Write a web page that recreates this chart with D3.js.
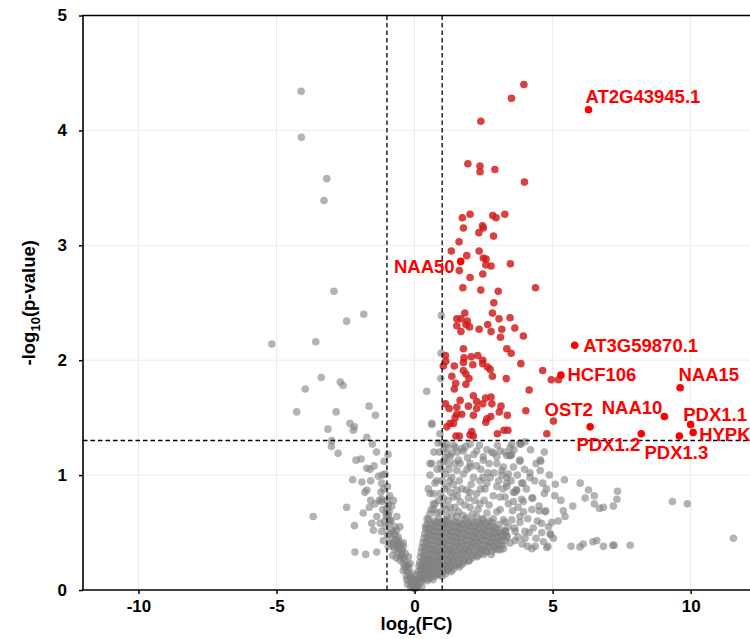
<!DOCTYPE html>
<html>
<head>
<meta charset="utf-8">
<script src="https://cdn.jsdelivr.net/npm/d3@7/dist/d3.min.js"></script>
<style>
  html, body { margin: 0; padding: 0; background: #ffffff; }
  svg { display: block; }
  text { font-family: "Liberation Sans", Arial, Helvetica, sans-serif; font-weight: bold; }
</style>
</head>
<body>
<div id="chart"></div>
<script>
// Axis ticks
const xTicks = [-10, -5, 0, 5, 10];
const yTicks = [0, 1, 2, 3, 4, 5];

// Significance thresholds: |log2FC| > 1 and p < 0.05
const fcCut = 1;
const pCut = -Math.log10(0.05);

// Genes not passing the thresholds: [log2FC, -log10 p]
const grayPoints = [
  // far left
  [-4.11,4.34],[-4.10,3.94],[-3.18,3.58],[-3.28,3.39],[-2.92,2.60],[-1.84,2.40],[-2.46,2.34],
  [-5.17,2.14],[-3.58,2.16],[-3.38,1.85],[-3.96,1.75],[-2.69,1.81],[-2.59,1.78],
  [-4.27,1.55],[-2.84,1.55],[-1.65,1.60],[-1.42,1.52],[-3.14,1.40],[-3.00,1.30],[-3.01,1.25],
  [-2.77,1.19],[-2.34,1.45],[-2.18,1.42],[-2.22,1.39],[-1.73,1.33],[-1.53,1.27],[-1.38,1.20],
  [-2.12,1.13],[-1.94,1.14],[-1.73,1.06],[-1.61,1.05],[-1.47,1.08],[-1.31,0.99],[-1.17,1.00],
  [-2.24,0.96],[-1.91,0.94],[-1.59,0.95],[-1.19,0.93],[-1.80,0.85],[-1.73,0.87],[-2.46,0.72],
  [-3.67,0.64],[-2.18,0.56],[-1.86,0.67],[-2.16,0.33],[-1.77,0.31],[-1.37,0.33],
  // left arm
  [-1.59,0.78],[-1.43,0.75],[-1.64,0.72],[-1.19,0.77],[-1.01,0.78],[-0.83,0.73],[-1.04,0.67],
  [-1.37,0.64],[-1.55,0.58],[-1.49,0.52],[-1.25,0.58],[-1.19,0.51],[-1.13,0.43],[-0.89,0.49],
  [-0.77,0.41],[-0.64,0.38],[-0.95,0.38],[-0.53,0.29],[-0.41,0.23],[-0.28,0.17],[-0.16,0.12],
  [-0.04,0.09],[0.08,0.06],[-0.89,0.61],[-0.71,0.55],[-0.59,0.46],[-0.41,0.38],[-0.22,0.29],
  [-0.46,0.32],[-1.07,1.01],[-1.19,0.79],[-0.95,0.74],[-0.77,0.78],[-1.01,0.64],[-0.64,0.64],
  [-0.83,0.52],[-0.53,0.55],[-0.59,0.43],[-0.41,0.41],[-0.77,0.38],[-0.34,0.32],[-0.53,0.26],
  [-0.16,0.23],[-0.41,0.17],[-0.10,0.14],[-0.28,0.09],[-0.04,0.06],[0.08,0.03],
  [-1.12,0.88],[-0.98,0.90],[-0.90,0.82],[-1.05,0.55],[-0.92,0.58],[-0.70,0.48],[-0.65,0.52],
  [-0.50,0.40],[-0.45,0.35],[-0.35,0.26],[-0.30,0.21],[-0.22,0.15],[-0.18,0.08],[-0.10,0.05],
  [-0.05,0.02],[0.00,0.01],[-0.60,0.33],[-0.72,0.35],[-0.85,0.44],[-0.30,0.12],[-0.15,0.03],
  [-0.25,0.05],[-1.10,1.12],[-0.96,1.18],
  [-0.95,0.65],[-0.85,0.60],[-0.78,0.50],[-0.68,0.44],[-0.62,0.40],[-0.55,0.36],[-0.48,0.30],
  [-0.40,0.28],[-0.36,0.20],[-0.24,0.22],[-0.20,0.19],[-0.12,0.10],[-0.08,0.07],[-1.00,0.71],
  [-0.92,0.68],[-1.15,0.70],[-1.08,0.60],[-0.98,0.48],[-0.88,0.40],[-0.80,0.30],[-0.66,0.28],
  [-1.22,0.85],[-1.28,0.78],
  // near the fold-change cut, above and below the p cut
  [0.97,2.39],[0.96,2.06],[0.95,1.84],[0.44,1.73],[0.63,1.44],[0.62,1.45],[0.92,1.36],
  [0.62,1.10],[0.80,0.95],[0.56,0.84],[0.74,0.75],[0.56,1.00],[0.50,0.88],[0.60,0.70],
  [0.45,0.62],[0.40,0.55],[0.56,1.10],[0.74,0.93],[0.92,0.84],[0.68,0.75],[0.70,1.20],
  [0.85,1.28],[1.05,1.22],[1.10,1.15],[0.98,1.05],[1.25,1.05],[1.40,0.92],[1.30,0.85],[1.00,0.95],
  // dense wedge right of zero
  [0.03,0.02],[0.14,0.04],[0.26,0.03],[-0.08,0.03],
  [0.09,0.08],[0.21,0.07],[0.33,0.09],[0.46,0.08],[-0.03,0.09],
  [0.07,0.13],[0.19,0.11],[0.32,0.12],[0.45,0.13],[0.58,0.11],[0.73,0.12],[0.87,0.13],[0.99,0.12],
  [0.13,0.16],[0.27,0.17],[0.40,0.15],[0.56,0.16],[0.71,0.17],[0.89,0.15],[1.05,0.16],[1.21,0.17],[1.33,0.16],
  [0.16,0.21],[0.31,0.20],[0.46,0.19],[0.63,0.21],[0.80,0.20],[0.97,0.19],[1.14,0.21],[1.31,0.20],[1.49,0.21],[1.62,0.20],
  [0.19,0.24],[0.35,0.25],[0.51,0.23],[0.69,0.24],[0.87,0.25],[1.05,0.23],[1.23,0.24],[1.41,0.25],[1.60,0.23],[1.79,0.24],[1.95,0.25],
  [0.21,0.29],[0.39,0.28],[0.57,0.27],[0.76,0.29],[0.94,0.28],[1.13,0.27],[1.31,0.29],[1.50,0.28],[1.69,0.27],[1.89,0.29],[2.09,0.28],[2.26,0.29],
  [0.24,0.33],[0.43,0.31],[0.62,0.32],[0.81,0.33],[1.00,0.31],[1.19,0.32],[1.39,0.33],[1.58,0.31],[1.78,0.32],[1.98,0.33],[2.19,0.31],[2.41,0.32],[2.61,0.33],[2.78,0.31],
  [0.27,0.37],[0.47,0.36],[0.67,0.35],[0.86,0.37],[1.06,0.36],[1.26,0.35],[1.45,0.37],[1.65,0.36],[1.85,0.35],[2.05,0.37],[2.26,0.36],[2.47,0.35],[2.69,0.37],[2.91,0.36],[3.11,0.35],
  [0.30,0.41],[0.49,0.40],[0.70,0.39],[0.91,0.41],[1.11,0.40],[1.32,0.39],[1.52,0.41],[1.72,0.40],[1.93,0.39],[2.14,0.41],[2.35,0.40],[2.56,0.39],[2.77,0.41],[2.97,0.40],[3.19,0.39],
  [0.34,0.45],[0.54,0.44],[0.75,0.43],[0.95,0.45],[1.16,0.44],[1.37,0.43],[1.58,0.45],[1.79,0.44],[2.00,0.43],[2.21,0.45],[2.42,0.44],[2.64,0.43],[2.85,0.45],[3.06,0.44],[3.27,0.43],
  [0.37,0.49],[0.59,0.48],[0.80,0.47],[1.01,0.49],[1.22,0.48],[1.43,0.47],[1.64,0.49],[1.85,0.48],[2.07,0.47],[2.28,0.49],[2.49,0.48],[2.70,0.47],[2.92,0.49],[3.13,0.48],[3.35,0.47],
  [0.41,0.53],[0.62,0.52],[0.84,0.51],[1.05,0.53],[1.27,0.52],[1.49,0.51],[1.70,0.53],[1.91,0.52],[2.12,0.51],[2.34,0.53],[2.55,0.52],[2.77,0.51],[2.98,0.53],[3.20,0.52],
  [0.45,0.57],[0.67,0.56],[0.89,0.55],[1.11,0.57],[1.33,0.56],[1.54,0.55],[1.75,0.57],[1.97,0.56],[2.19,0.55],[2.41,0.57],[2.63,0.56],[2.84,0.55],[3.04,0.57],
  [0.51,0.61],[0.73,0.60],[0.95,0.59],[1.17,0.61],[1.39,0.60],[1.61,0.59],[1.83,0.61],[2.05,0.60],[2.27,0.59],[2.49,0.61],[2.71,0.60],
  [0.15,0.10],[0.27,0.10],[0.40,0.10],[0.52,0.10],[0.66,0.09],
  [0.20,0.14],[0.35,0.14],[0.50,0.14],[0.64,0.14],[0.80,0.14],[0.96,0.15],[1.12,0.14],
  [0.22,0.18],[0.38,0.18],[0.55,0.19],[0.72,0.18],[0.89,0.19],[1.06,0.18],[1.23,0.19],[1.40,0.18],
  [0.26,0.22],[0.43,0.22],[0.60,0.22],[0.78,0.23],[0.96,0.22],[1.15,0.22],[1.33,0.23],[1.52,0.22],[1.70,0.22],
  [0.30,0.26],[0.48,0.27],[0.66,0.26],[0.85,0.26],[1.04,0.27],[1.22,0.26],[1.41,0.26],[1.60,0.27],[1.79,0.26],[1.99,0.26],
  [0.33,0.30],[0.52,0.30],[0.71,0.31],[0.90,0.30],[1.10,0.30],[1.29,0.31],[1.49,0.30],[1.68,0.30],[1.88,0.31],[2.09,0.30],[2.30,0.30],[2.50,0.31],
  [0.36,0.34],[0.56,0.35],[0.76,0.34],[0.96,0.34],[1.16,0.35],[1.35,0.34],[1.55,0.34],[1.75,0.35],[1.95,0.34],[2.15,0.34],[2.37,0.35],[2.58,0.34],[2.80,0.34],[3.00,0.35],
  [0.38,0.38],[0.58,0.39],[0.80,0.38],[1.01,0.38],[1.21,0.39],[1.42,0.38],[1.62,0.38],[1.83,0.39],[2.03,0.38],[2.25,0.38],[2.46,0.39],[2.66,0.38],[2.87,0.38],[3.08,0.39],
  [0.42,0.42],[0.62,0.43],[0.83,0.42],[1.04,0.42],[1.25,0.43],[1.46,0.42],[1.67,0.42],[1.88,0.43],[2.09,0.42],[2.30,0.42],[2.52,0.43],[2.73,0.42],[2.94,0.42],[3.15,0.43],
  [0.45,0.46],[0.66,0.47],[0.87,0.46],[1.08,0.46],[1.30,0.47],[1.51,0.46],[1.72,0.46],[1.94,0.47],[2.15,0.46],[2.37,0.46],[2.58,0.47],[2.80,0.46],[3.01,0.46],[3.22,0.47],
  [0.50,0.50],[0.71,0.51],[0.93,0.50],[1.15,0.50],[1.36,0.51],[1.58,0.50],[1.79,0.50],[2.01,0.51],[2.22,0.50],[2.44,0.50],[2.66,0.51],[2.87,0.50],[3.08,0.50],[3.30,0.51],
  [0.54,0.54],[0.76,0.55],[0.98,0.54],[1.20,0.54],[1.42,0.55],[1.63,0.54],[1.85,0.54],[2.06,0.55],[2.28,0.54],[2.50,0.54],[2.72,0.55],[2.93,0.54],
  [0.60,0.58],[0.82,0.59],[1.04,0.58],[1.26,0.58],[1.48,0.59],[1.70,0.58],[1.92,0.58],[2.14,0.59],[2.36,0.58],[2.58,0.58],[2.80,0.59],
  // middle band below the p cut
  [1.17,1.24],[1.35,1.19],[1.71,1.23],[1.59,1.13],[1.22,1.10],[1.11,1.01],[1.35,0.98],[1.53,1.04],
  [1.77,1.01],[2.01,1.07],[2.25,1.08],[2.49,1.13],[2.86,1.19],[2.98,1.16],[3.22,1.07],[3.40,1.01],
  [2.13,0.98],[2.37,0.95],[2.62,0.93],[2.74,0.98],[2.98,0.90],[3.34,0.90],[1.17,0.90],[1.53,0.87],
  [1.89,0.87],[2.25,0.84],[1.65,0.77],[2.01,0.72],[2.37,0.75],[1.29,0.72],[0.80,0.67],[1.17,0.64],
  [1.53,0.64],[1.89,0.63],[2.25,0.64],[2.62,0.67],[2.98,0.68],[3.22,0.61],[3.40,0.75],[3.10,0.81],
  [0.68,0.84],[0.86,0.78],[1.04,0.80],[1.41,0.81],
  [0.55,0.66],[0.70,0.70],[0.95,0.68],[1.05,0.74],[1.22,0.78],[1.36,0.66],[1.46,0.72],[1.60,0.68],
  [1.75,0.65],[1.82,0.74],[1.95,0.80],[2.10,0.66],[2.18,0.78],[2.30,0.70],[2.45,0.62],[2.52,0.78],
  [2.70,0.74],[0.88,0.62],[1.12,0.60],
  [1.17,1.27],[1.47,1.24],[1.77,1.21],[2.01,1.27],[2.25,1.21],[2.49,1.16],[2.80,1.20],[3.10,1.21],
  [3.46,1.24],[3.82,1.27],[4.00,1.29],[3.52,1.18],[4.55,1.13],[1.29,1.16],[1.65,1.10],[0.92,1.10],
  [2.01,1.10],[2.98,1.10],[3.58,1.07],[3.52,1.27],[3.82,1.28],[3.34,1.17],[3.82,1.13],
  [1.05,1.12],[1.20,1.18],[1.42,1.26],[1.55,1.20],[1.85,1.25],[1.92,1.15],[2.15,1.18],[2.35,1.26],
  [2.62,1.22],[2.70,1.10],[3.00,1.26],[3.28,1.20],[1.08,0.88],[1.28,0.95],[1.62,0.95],[1.72,0.88],
  [2.05,0.92],[2.48,0.98],[2.55,0.88],[2.85,0.82],[3.05,0.95],[3.20,0.88],[1.45,1.10],[1.90,1.05],
  [2.40,1.05],[2.65,1.02],[2.88,1.02],[1.15,0.70],[1.55,0.82],[2.00,0.85],[2.40,0.88],[2.85,0.62],
  [3.10,0.70],[0.82,1.05],[0.90,1.20],[1.00,1.28],
  // right side cloud
  [5.43,0.96],[6.00,0.93],[6.30,0.87],[7.35,0.86],[7.33,0.79],[6.51,0.82],[6.18,0.80],[5.73,0.73],
  [5.39,0.69],[5.45,0.64],[6.84,0.72],[6.70,0.71],[7.20,0.73],[6.51,0.75],[5.08,0.82],[4.97,0.59],
  [4.91,0.49],[5.03,0.45],[4.57,1.12],[4.55,1.04],[4.18,1.02],[4.18,0.98],[4.64,0.93],[4.78,0.88],
  [4.28,0.80],[4.51,0.73],[4.75,0.69],[4.70,0.84],[3.86,1.27],[3.46,1.17],[3.92,0.93],[4.25,0.80],
  [3.94,0.77],[3.58,0.77],[3.68,0.87],[4.61,0.50],[4.67,0.42],[4.83,0.38],[4.00,0.51],[4.30,0.54],
  [3.82,0.59],[3.64,0.51],[3.28,0.51],
  [5.67,0.38],[5.99,0.375],[6.11,0.40],[6.46,0.42],[6.60,0.43],[6.84,0.38],[7.18,0.39],[7.23,0.39],
  [7.81,0.39],[11.55,0.45],[9.34,0.77],[9.88,0.75],
  [3.47,1.17],[3.81,1.12],[3.88,0.93],[3.70,0.87],[3.34,0.93],[3.16,1.00],[3.16,1.04],[3.34,0.98],
  [3.64,0.85],[4.25,0.70],[4.52,0.69],[4.73,0.68],[3.82,0.64],[3.52,0.61],[3.28,0.59],[3.63,0.54],
  [4.93,0.48],[4.00,0.45],[3.34,0.46],[3.64,0.43],[4.09,0.38],[4.25,0.36],[4.37,0.38],[4.79,0.37],
  [3.22,0.36],[3.46,0.41],[3.58,0.85],[3.28,0.81],[3.88,0.79],
  [3.40,0.55],[3.55,0.69],[3.75,0.72],[3.95,0.68],[4.10,0.62],[4.15,0.50],[4.40,0.45],[4.45,0.60],
  [4.60,0.58],[4.85,0.55],[3.75,0.46],[3.90,0.40],[3.50,0.95],[3.72,1.00],[3.98,1.05],[4.05,0.88],
  [4.35,0.95],[4.40,1.10],[4.88,1.00],[5.10,0.92],[5.20,0.60],[5.30,0.78],[3.60,1.22],[4.20,1.22],
  [4.70,1.20]
];

// Significant, unlabelled genes
const redPoints = [
  [3.96,4.40],[3.51,4.28],[2.40,4.08],[1.93,3.71],[2.37,3.69],[2.37,3.64],[2.91,3.66],[3.98,3.55],
  [1.73,3.24],[2.01,3.27],[2.83,3.26],[2.95,3.24],[3.27,3.27],[1.77,3.15],[2.46,3.17],[2.49,3.15],
  [2.33,3.11],[2.86,3.08],[1.61,3.03],[1.33,2.95],[1.89,2.91],[2.34,2.95],[2.49,2.89],[2.59,2.88],
  [2.58,2.83],[2.77,2.82],[3.47,2.84],[1.62,2.78],[2.01,2.72],[2.47,2.75],[1.75,2.63],[2.40,2.61],
  [3.03,2.60],[4.38,2.63],[2.87,2.50],[1.82,2.41],[2.82,2.41],[1.53,2.36],[1.68,2.36],[1.91,2.34],
  [3.06,2.36],[3.46,2.37],[1.53,2.30],[1.86,2.31],[1.99,2.29],[2.65,2.31],[2.34,2.27],[2.77,2.25],
  [3.16,2.27],[3.63,2.28],[1.68,2.25],[3.11,2.20],[3.94,2.21],[1.77,2.10],[3.34,2.10],[3.50,2.06],
  [1.12,2.04],[1.79,2.02],[2.05,2.03],[2.29,2.04],[2.47,2.00],[1.13,1.99],[1.44,1.95],[1.77,1.98],
  [2.11,1.96],[2.47,1.97],[2.64,1.94],[2.74,1.92],[1.04,1.95],[3.85,1.97],[4.64,1.91],[1.77,1.91],
  [1.86,1.88],[1.35,1.86],[1.97,1.84],[2.82,1.86],[3.32,1.84],[4.95,1.83],[5.21,1.83],[1.49,1.80],
  [1.86,1.79],[1.44,1.75],[4.15,1.74],[2.13,1.69],[2.57,1.67],[2.77,1.68],[1.65,1.65],[2.25,1.64],
  [2.47,1.62],[2.80,1.62],[1.12,1.62],[1.95,1.60],[3.13,1.60],[1.25,1.58],[1.53,1.59],[2.25,1.58],
  [4.03,1.56],[1.53,1.53],[1.71,1.53],[2.13,1.52],[2.76,1.51],[3.07,1.55],[1.47,1.50],[1.41,1.45],
  [2.58,1.46],[2.62,1.49],[3.36,1.52],[1.29,1.45],[1.17,1.42],[5.03,1.47],[3.24,1.39],[3.38,1.39],
  [3.00,1.36],[2.07,1.38],[2.01,1.35],[2.13,1.34],[1.62,1.34],[1.50,1.34],[4.79,1.36]
];

// Significant, named genes
const labelGenes = ["AT2G43945.1", "NAA50", "AT3G59870.1", "HCF106", "NAA15", "OST2",
                    "NAA10", "PDX1.1", "HYPK", "PDX1.2", "PDX1.3"];
const labelFC    = [6.30, 1.67, 5.80, 5.30, 9.62, 6.36, 9.05, 10.00, 10.09, 8.21, 9.59];
const labelP     = [4.18, 2.86, 2.13, 1.87, 1.76, 1.42, 1.51, 1.44, 1.37, 1.36, 1.34];

// Text placement for each name, relative to its point (px)
const labelNudge = {
  "AT2G43945.1": { dx: -3,  dy: -7,   anchor: "start" },
  "NAA50":       { dx: -6,  dy: 11.4, anchor: "end" },
  "AT3G59870.1": { dx: 8.6, dy: 6.7,  anchor: "start" },
  "HCF106":      { dx: 6.6, dy: 5.7,  anchor: "start" },
  "NAA15":       { dx: -1.7,dy: -6.6, anchor: "start" },
  "OST2":        { dx: 2.7, dy: -10.7,anchor: "end" },
  "NAA10":       { dx: -2,  dy: -3,   anchor: "end" },
  "PDX1.1":      { dx: -7.4,dy: -3.6, anchor: "start" },
  "HYPK":        { dx: 6,   dy: 8.7,  anchor: "start" },
  "PDX1.2":      { dx: -1,  dy: 17.7, anchor: "end" },
  "PDX1.3":      { dx: -3,  dy: 23.3, anchor: "middle" }
};

const W = 750, H = 639;
const pLeft = 83, pTop = 15.5, pRight = 750, pBottom = 590;

const svg = d3.select("#chart").append("svg")
  .attr("width", W).attr("height", H);

const x = d3.scaleLinear().domain([-12.01, 12.15]).range([pLeft, pRight]);
const y = d3.scaleLinear().domain([0, 5]).range([pBottom, pTop]);

// grid
const grid = svg.append("g").attr("stroke", "#ebebeb").attr("stroke-width", 1);
grid.selectAll("line.gx").data(xTicks).join("line")
  .attr("x1", d => x(d)).attr("x2", d => x(d))
  .attr("y1", pTop).attr("y2", pBottom);
grid.selectAll("line.gy").data(yTicks.filter(d => d > 0 && d < 5)).join("line")
  .attr("x1", pLeft).attr("x2", pRight)
  .attr("y1", d => y(d)).attr("y2", d => y(d));

// points
const r = 3.8;
svg.append("g").selectAll("circle").data(grayPoints).join("circle")
  .attr("cx", d => x(d[0])).attr("cy", d => y(d[1])).attr("r", r)
  .attr("fill", "#808080").attr("fill-opacity", 0.6);

svg.append("g").selectAll("circle").data(redPoints).join("circle")
  .attr("cx", d => x(d[0])).attr("cy", d => y(d[1])).attr("r", r)
  .attr("fill", "#d21919").attr("fill-opacity", 0.82);

const named = labelGenes.map((g, i) => ({ gene: g, fc: labelFC[i], p: labelP[i] }));
svg.append("g").selectAll("circle").data(named).join("circle")
  .attr("cx", d => x(d.fc)).attr("cy", d => y(d.p)).attr("r", r)
  .attr("fill", "#ff0000");

// threshold lines
const dash = svg.append("g").attr("stroke", "#000").attr("stroke-width", 1.3)
  .attr("stroke-dasharray", "4.5,3");
[-fcCut, fcCut].forEach(v => {
  dash.append("line").attr("x1", x(v)).attr("x2", x(v)).attr("y1", pTop).attr("y2", pBottom);
});
dash.append("line").attr("x1", pLeft).attr("x2", pRight).attr("y1", y(pCut)).attr("y2", y(pCut));

// gene names
svg.append("g").selectAll("text").data(named).join("text")
  .attr("x", d => x(d.fc) + labelNudge[d.gene].dx)
  .attr("y", d => y(d.p) + labelNudge[d.gene].dy)
  .attr("text-anchor", d => labelNudge[d.gene].anchor)
  .attr("fill", "#ff0000")
  .attr("font-size", "18.5px")
  .text(d => d.gene);

// axes
const tickText = d => String(d);
const xAxis = svg.append("g").attr("transform", `translate(0,${pBottom})`)
  .call(d3.axisBottom(x).tickValues(xTicks).tickSize(4).tickPadding(5.5).tickFormat(tickText));
const yAxis = svg.append("g").attr("transform", `translate(${pLeft},0)`)
  .call(d3.axisLeft(y).tickValues(yTicks).tickSize(4).tickPadding(12).tickFormat(tickText));
[xAxis, yAxis].forEach(a => {
  a.select(".domain").remove();
  a.selectAll(".tick line").attr("stroke", "#000").attr("stroke-width", 1.5);
  a.selectAll(".tick text").attr("fill", "#000")
    .style("font-family", "'Liberation Sans', Arial, sans-serif")
    .style("font-weight", "bold").style("font-size", "17px");
});

// panel frame (left, top, bottom)
const frame = svg.append("g").attr("stroke", "#000").attr("stroke-width", 1.6).attr("fill", "none");
frame.append("line").attr("x1", pLeft).attr("x2", pLeft).attr("y1", pTop).attr("y2", pBottom);
frame.append("line").attr("x1", pLeft - 0.8).attr("x2", pRight).attr("y1", pTop).attr("y2", pTop);
frame.append("line").attr("x1", pLeft - 0.8).attr("x2", pRight).attr("y1", pBottom).attr("y2", pBottom);

// axis titles
const xt = svg.append("text").attr("x", (pLeft + pRight) / 2).attr("y", 630)
  .attr("text-anchor", "middle").attr("font-size", "18.5px").attr("fill", "#000");
xt.append("tspan").text("log");
xt.append("tspan").attr("font-size", "13px").attr("dy", 5).text("2");
xt.append("tspan").attr("dy", -5).text("(FC)");

const yt = svg.append("text")
  .attr("transform", `translate(35,${(pTop + pBottom) / 2}) rotate(-90)`)
  .attr("text-anchor", "middle").attr("font-size", "18.5px").attr("fill", "#000");
yt.append("tspan").text("-log");
yt.append("tspan").attr("font-size", "13px").attr("dy", 5).text("10");
yt.append("tspan").attr("dy", -5).text("(p-value)");
</script>
</body>
</html>
